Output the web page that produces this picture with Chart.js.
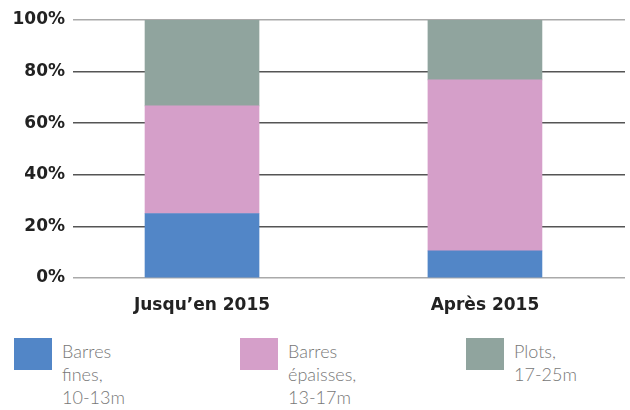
<!DOCTYPE html>
<html>
<head>
<meta charset="utf-8">
<script src="https://cdn.jsdelivr.net/npm/chart.js@4"></script>
<style>
  body { margin: 0; background: #fff; }
  #wrap { position: relative; width: 630px; height: 320px; }
  .legend { position: absolute; top: 338px; left: 0; width: 630px; }
  .item { position: absolute; top: 0; }
  .swatch { position: absolute; left: 0; top: 0; width: 38px; height: 32px; }
  .label { position: absolute; left: 48px; top: 2px; font-family: Lato, sans-serif; font-weight: 300;
           font-size: 18px; line-height: 23px; color: #777; white-space: nowrap; }
</style>
</head>
<body>
<div id="wrap"><canvas id="chart" width="630" height="320"></canvas></div>
<div class="legend" id="legend"></div>
<script>
const categories = ['Jusqu\u2019en 2015', 'Apr\u00e8s 2015'];
const seriesNames = [['Barres', 'fines,', '10-13m'], ['Barres', '\u00e9paisses,', '13-17m'], ['Plots,', '17-25m']];
const fines = [25, 10.5];
const epaisses = [41.7, 66.3];
const plots = [33.3, 23.2];
const colors = ['#5286c7', '#d59fc9', '#90a49e'];
const yTicks = [0, 20, 40, 60, 80, 100];
const legendX = [14, 240, 466];

// bars sit on a linear x axis at positions 0, 1 so the spacing can be tuned
const toPoints = (arr) => arr.map((v, i) => ({ x: i, y: v }));

const ctx = document.getElementById('chart').getContext('2d');
const chart = new Chart(ctx, {
    type: 'bar',
    data: {
        datasets: [fines, epaisses, plots].map((d, i) => ({
            label: seriesNames[i].join(' '),
            data: toPoints(d),
            backgroundColor: colors[i],
            borderWidth: 0,
            barThickness: 114
        }))
    },
    options: {
        responsive: false,
        animation: false,
        layout: { padding: { top: 20, right: 5, left: 0, bottom: 0 } },
        plugins: { legend: { display: false }, tooltip: { enabled: false } },
        scales: {
            x: {
                type: 'linear',
                stacked: true,
                min: -0.456,
                max: 1.495,
                offset: false,
                afterBuildTicks: (s) => { s.ticks = categories.map((c, i) => ({ value: i })); },
                grid: { display: false },
                border: { display: false },
                ticks: {
                    color: '#222',
                    padding: 9,
                    font: { family: 'DejaVu Sans', weight: 'bold', size: 17 },
                    callback: (v) => categories[v]
                },
                afterFit: (s) => { s.height = 42; }
            },
            y: {
                stacked: true,
                min: 0,
                max: 100,
                afterBuildTicks: (s) => { s.ticks = yTicks.map(v => ({ value: v })); },
                border: { display: false },
                grid: {
                    color: (c) => (c.tick.value === 0 || c.tick.value === 100) ? '#aaa' : '#555',
                    lineWidth: 1.5,
                    drawTicks: false
                },
                ticks: {
                    color: '#222',
                    padding: 8,
                    font: { family: 'DejaVu Sans', weight: 'bold', size: 17 },
                    callback: (v) => v + '%'
                },
                afterFit: (s) => { s.width = 73; }
            }
        }
    }
});

// legend below the chart
const legend = document.getElementById('legend');
seriesNames.forEach((lines, i) => {
    const item = document.createElement('div');
    item.className = 'item';
    item.style.left = legendX[i] + 'px';
    const sw = document.createElement('div');
    sw.className = 'swatch';
    sw.style.background = colors[i];
    const lab = document.createElement('div');
    lab.className = 'label';
    lab.innerHTML = lines.join('<br>');
    item.appendChild(sw);
    item.appendChild(lab);
    legend.appendChild(item);
});
</script>
</body>
</html>
